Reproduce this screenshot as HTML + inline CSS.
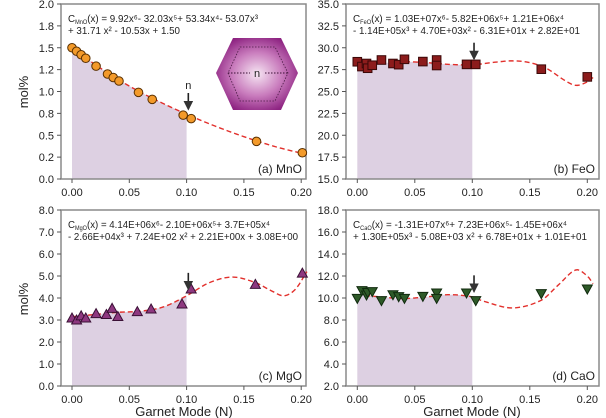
<!DOCTYPE html>
<html><head><meta charset="utf-8"><style>
body{margin:0;background:#fff;}
svg{display:block;font-family:"Liberation Sans",Arial,sans-serif;}
</style></head><body>
<svg id="chart" width="606" height="418" viewBox="0 0 606 418">
<defs>
<radialGradient id="hexg" cx="50%" cy="50%" r="55%">
<stop offset="0" stop-color="#f6e6f3"/><stop offset="0.55" stop-color="#c97cbd"/><stop offset="1" stop-color="#8e2482"/>
</radialGradient>
<marker id="arr" markerWidth="6" markerHeight="6" refX="5" refY="3" orient="auto"><path d="M0,0 L6,3 L0,6 z" fill="#333"/></marker>
</defs>
</svg>
<script>
// ---------- data ----------
const mnoX=[0,0.004,0.008,0.012,0.021,0.031,0.036,0.041,0.058,0.070,0.097,0.104,0.161,0.201];
const mnoY=[1.50,1.46,1.42,1.38,1.29,1.20,1.16,1.12,0.99,0.91,0.73,0.69,0.43,0.30];
const feoX=[0,0.004,0.008,0.009,0.013,0.021,0.031,0.036,0.041,0.057,0.069,0.069,0.095,0.103,0.160,0.200];
const feoY=[28.4,27.85,28.2,27.66,28.0,28.6,28.2,28.07,28.68,28.42,28.6,27.97,28.1,28.1,27.55,26.67];
const mgoX=[0,0.004,0.008,0.012,0.021,0.030,0.035,0.040,0.057,0.069,0.096,0.104,0.160,0.201];
const mgoY=[3.09,3.0,3.19,3.09,3.29,3.25,3.53,3.16,3.38,3.5,3.73,4.41,4.62,5.13];
const caoX=[0,0.004,0.008,0.009,0.013,0.021,0.031,0.036,0.041,0.057,0.069,0.069,0.095,0.103,0.160,0.200];
const caoY=[9.97,10.67,10.27,10.5,10.58,9.76,10.3,10.12,9.97,10.15,10.46,9.97,10.46,9.76,10.4,10.82];
// fitted curves
const mnoFitX=[0,0.02,0.04,0.06,0.08,0.10,0.12,0.14,0.16,0.18,0.205];
const mnoFitY=[1.50,1.31,1.14,0.99,0.86,0.74,0.63,0.53,0.44,0.36,0.28];
const feoFitX=[0,0.02,0.04,0.06,0.08,0.10,0.12,0.135,0.15,0.165,0.18,0.19,0.20,0.205];
const feoFitY=[27.8,28.2,28.4,28.3,28.1,28.05,28.35,28.5,28.3,27.6,26.3,25.7,26.1,26.6];
const mgoFitX=[0,0.02,0.04,0.06,0.08,0.10,0.12,0.14,0.16,0.175,0.185,0.195,0.205];
const mgoFitY=[3.15,3.25,3.35,3.4,3.6,4.1,4.7,4.95,4.7,4.3,4.1,4.4,5.2];
const caoFitX=[0,0.02,0.04,0.06,0.08,0.10,0.11,0.135,0.16,0.175,0.19,0.20,0.205];
const caoFitY=[10.3,10.1,9.95,10.1,10.3,10.1,9.7,9.1,9.8,11.2,12.55,12.0,11.3];
const xTicks=["0.00","0.05","0.10","0.15","0.20"];
const mnoTicks=["0.0","0.2","0.5","0.8","1.0","1.2","1.5","1.8","2.0"];
const feoTicks=["15.0","17.5","20.0","22.5","25.0","27.5","30.0","32.5","35.0"];
const mgoTicks=["0.0","1.0","2.0","3.0","4.0","5.0","6.0","7.0","8.0"];
const caoTicks=["2.0","4.0","6.0","8.0","10.0","12.0","14.0","16.0","18.0"];
const shadeEnd=0.100, arrowX=0.1015;

const NS="http://www.w3.org/2000/svg";
const svg=document.getElementById('chart');
function mk(tag,attrs,parent,text){const e=document.createElementNS(NS,tag);for(const k in attrs)e.setAttribute(k,attrs[k]);if(text!==undefined)e.textContent=text;(parent||svg).appendChild(e);return e;}
function spline(X,Y){
  const n=X.length,m=[];
  for(let i=0;i<n;i++){
    if(i===0)m.push((Y[1]-Y[0])/(X[1]-X[0]));
    else if(i===n-1)m.push((Y[n-1]-Y[n-2])/(X[n-1]-X[n-2]));
    else m.push((Y[i+1]-Y[i-1])/(X[i+1]-X[i-1]));
  }
  return x=>{
    let i=0;while(i<n-2&&x>X[i+1])i++;
    const h=X[i+1]-X[i],t=Math.max(0,Math.min(1,(x-X[i])/h));
    const t2=t*t,t3=t2*t;
    return (2*t3-3*t2+1)*Y[i]+(t3-2*t2+t)*h*m[i]+(-2*t3+3*t2)*Y[i+1]+(t3-t2)*h*m[i+1];
  };
}

function panel(o){
  const g=mk('g',{});
  
  
  const L=o.L,R=o.R,T=o.T,B=o.B;
  const f=spline(o.fx,o.fy);
  const sx=v=>o.x0+v/0.1*o.px;
  const sy=v=>B-(v-o.ymin)/(o.ymax-o.ymin)*(B-T);
  let d=`M${sx(0)},${sy(o.ymin)}`;
  for(let i=0;i<=50;i++){const x=shadeEnd*i/50;d+=` L${sx(x)},${sy(f(x))}`;}
  d+=` L${sx(shadeEnd)},${sy(o.ymin)} Z`;
  const sh=mk('path',{d:d,fill:'#ddd0e2'},g);
  
  
  const fr=mk('rect',{x:L,y:T,width:R-L,height:B-T,fill:'none',stroke:'#8a8a8a','stroke-width':1.5},g);
  
  
  xTicks.forEach((t,i)=>{const x=sx(i*0.05);
    mk('line',{x1:x,y1:B,x2:x,y2:B+4,stroke:'#555'},g);
    const tx=mk('text',{x:x,y:B+17,'font-size':11,'text-anchor':'middle',fill:'#222'},g,t);
    
    
  });
  o.ticks.forEach((t,i)=>{const y=B-i*(B-T)/(o.ticks.length-1);
    mk('line',{x1:L-4,y1:y,x2:L,y2:y,stroke:'#555'},g);
    const ty=mk('text',{x:L-7,y:y+4,'font-size':11,'text-anchor':'end',fill:'#222'},g,t);
    
    
  });
  let c='';
  for(let i=0;i<=120;i++){const x=0.205*i/120;c+=(i?' L':'M')+sx(x)+','+sy(f(x));}
  const cv=mk('path',{d:c,fill:'none',stroke:'#e2302c','stroke-width':1.4,'stroke-dasharray':'5,3'},g);
  
  
  o.xs.forEach((xv,i)=>{const x=sx(xv),y=sy(o.ys[i]);let m;
    if(o.shape==='circle')m=mk('circle',{cx:x,cy:y,r:4.3,fill:'#f39a2a',stroke:'#5a3000','stroke-width':1},g);
    else if(o.shape==='square')m=mk('rect',{x:x-4.3,y:y-4.3,width:8.6,height:8.6,fill:'#8c1c1c',stroke:'#3a0808','stroke-width':1},g);
    else if(o.shape==='tri')m=mk('path',{d:`M${x},${y-5} L${x+5},${y+4} L${x-5},${y+4} Z`,fill:'#8e3880',stroke:'#3a1035','stroke-width':1},g);
    else m=mk('path',{d:`M${x},${y+5} L${x+5},${y-4} L${x-5},${y-4} Z`,fill:'#2e5a28',stroke:'#102a0e','stroke-width':1},g);
    
    
  });
  const ax=sx(arrowX),ay=sy(f(arrowX));
  const ar=mk('line',{x1:ax,y1:ay-22,x2:ax,y2:ay-6,stroke:'#222','stroke-width':1.6,'marker-end':'url(#arr)'},g);
  
  
  if(o.arrowLabel){const n=mk('text',{x:ax,y:ay-26,'font-size':11,'text-anchor':'middle',fill:'#222'},g,'n');
    
    }
  const e1=mk('text',{x:L+7,y:T+18,'font-size':10.5,fill:'#222',textLength:o.w1,lengthAdjust:'spacingAndGlyphs'},g);
  
  
  e1.innerHTML=o.eq1;
  const e2=mk('text',{x:L+7,y:T+30,'font-size':10.5,fill:'#222',textLength:o.w2,lengthAdjust:'spacingAndGlyphs'},g,o.eq2);
  
  
  const pl=mk('text',{x:R-4,y:B-6,'font-size':12,'text-anchor':'end',fill:'#222'},g,o.label);
  
  
}
const sub=s=>`<tspan font-size="6" dy="2">${s}</tspan><tspan dy="-2">`;
panel({name:'panel-mno',L:61,R:306,T:4,B:179,x0:72,px:114.6,ymin:0,ymax:2,ticks:mnoTicks,fx:mnoFitX,fy:mnoFitY,xs:mnoX,ys:mnoY,shape:'circle',arrowLabel:true,w1:190,w2:112,
  eq1:`C${sub('MnO')}(x) = 9.92x⁶- 32.03x⁵+ 53.34x⁴- 53.07x³</tspan>`,eq2:'+ 31.71 x² - 10.53x + 1.50',label:'(a) MnO'});
panel({name:'panel-feo',L:346,R:599,T:4,B:179,x0:357.3,px:115,ymin:15,ymax:35,ticks:feoTicks,fx:feoFitX,fy:feoFitY,xs:feoX,ys:feoY,shape:'square',w1:211,w2:227,
  eq1:`C${sub('FeO')}(x) = 1.03E+07x⁶- 5.82E+06x⁵+ 1.21E+06x⁴</tspan>`,eq2:'- 1.14E+05x³ + 4.70E+03x² - 6.31E+01x + 2.82E+01',label:'(b) FeO'});
panel({name:'panel-mgo',L:61,R:306,T:210,B:386,x0:72,px:114.6,ymin:0,ymax:8,ticks:mgoTicks,fx:mgoFitX,fy:mgoFitY,xs:mgoX,ys:mgoY,shape:'tri',w1:202,w2:230,
  eq1:`C${sub('MgO')}(x) = 4.14E+06x⁶- 2.10E+06x⁵+ 3.7E+05x⁴</tspan>`,eq2:'- 2.66E+04x³ + 7.24E+02 x² + 2.21E+00x + 3.08E+00',label:'(c) MgO'});
panel({name:'panel-cao',L:346,R:599,T:210,B:386,x0:357.3,px:115,ymin:2,ymax:18,ticks:caoTicks,fx:caoFitX,fy:caoFitY,xs:caoX,ys:caoY,shape:'itri',w1:214,w2:234,
  eq1:`C${sub('CaO')}(x) = -1.31E+07x⁶+ 7.23E+06x⁵- 1.45E+06x⁴</tspan>`,eq2:'+ 1.30E+05x³ - 5.08E+03 x² + 6.78E+01x + 1.01E+01',label:'(d) CaO'});
[[28,92],[28,299]].forEach(p=>{const t=mk('text',{x:p[0],y:p[1],'font-size':13,'text-anchor':'middle',fill:'#222',transform:`rotate(-90 ${p[0]} ${p[1]})`},svg,'mol%');
  
  });
[[184,416],[472,416]].forEach(p=>{const t=mk('text',{x:p[0],y:p[1],'font-size':13,'text-anchor':'middle',fill:'#222'},svg,'Garnet Mode (N)');
  
  });
const hg=mk('g',{});


mk('polygon',{points:'233,38 281,38 298,73 281,110 233,110 216,73',fill:'url(#hexg)'},hg);
mk('polygon',{points:'240,47 275,47 288,73 275,101 240,101 228,73',fill:'none',stroke:'#4a1a44','stroke-width':0.8,'stroke-dasharray':'1.5,1.5'},hg);
mk('line',{x1:228,y1:73,x2:250,y2:73,stroke:'#3a1035','stroke-width':0.9,'stroke-dasharray':'1.5,1.5'},hg);
mk('line',{x1:265,y1:73,x2:288,y2:73,stroke:'#3a1035','stroke-width':0.9,'stroke-dasharray':'1.5,1.5'},hg);
mk('text',{x:257,y:77,'font-size':11,'text-anchor':'middle',fill:'#222'},hg,'n');
</script>
</body></html>
